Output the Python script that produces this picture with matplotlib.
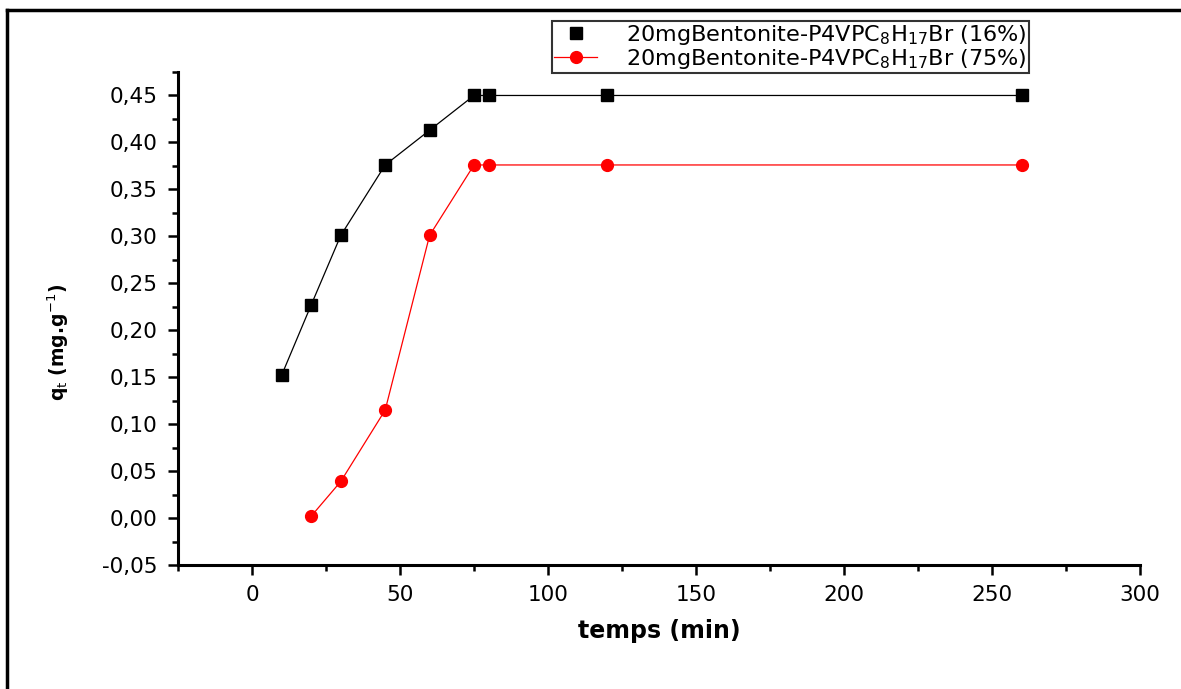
import numpy as np
import matplotlib
matplotlib.use('Agg')
import matplotlib.pyplot as plt
from matplotlib.lines import Line2D
from matplotlib.ticker import MultipleLocator, FuncFormatter

# temps (min) and q_t (mg/g)
t_16 = [10, 20, 30, 45, 60, 75, 80, 120, 260]
q_16 = [0.152, 0.227, 0.301, 0.376, 0.413, 0.450, 0.450, 0.450, 0.450]
t_75 = [20, 30, 45, 60, 75, 80, 120, 260]
q_75 = [0.002, 0.039, 0.115, 0.301, 0.376, 0.376, 0.376, 0.376]

label_16 = '20mgBentonite-P4VPC$_8$H$_{17}$Br (16%)'
label_75 = '20mgBentonite-P4VPC$_8$H$_{17}$Br (75%)'

plt.rcParams['font.family'] = ['DejaVu Sans']
plt.rcParams['mathtext.fontset'] = 'dejavusans'

W, H = 1181, 689
fig = plt.figure(figsize=(W / 100, H / 100), dpi=100, facecolor='w')

# outer frame (left and top only)
fig.add_artist(Line2D([7 / W, 7 / W], [0, 1 - 10 / H], color='black', lw=2.5,
                      transform=fig.transFigure))
fig.add_artist(Line2D([7 / W, 1], [1 - 10 / H, 1 - 10 / H], color='black', lw=2.5,
                      transform=fig.transFigure))

ax = fig.add_axes([178 / W, 1 - 565 / H, (1140 - 178) / W, (565 - 72) / H])

ax.plot(t_16, q_16, color='black', lw=0.9, zorder=2)
ax.plot(t_16, q_16, ls='none', marker='s', ms=8.5, color='black', zorder=3)
ax.plot(t_75, q_75, color='red', lw=0.9, marker='o', ms=8.5, zorder=3)

ax.set_xlim(-25, 300)
ax.set_ylim(-0.05, 0.475)
ax.xaxis.set_major_locator(MultipleLocator(50))
ax.xaxis.set_minor_locator(MultipleLocator(25))
ax.yaxis.set_major_locator(MultipleLocator(0.05))
ax.yaxis.set_minor_locator(MultipleLocator(0.025))
ax.yaxis.set_major_formatter(FuncFormatter(
    lambda v, p: ('%.2f' % v).replace('.', ',')))

for s in ['top', 'right']:
    ax.spines[s].set_visible(False)
for s in ['left', 'bottom']:
    ax.spines[s].set_linewidth(2.2)

ax.tick_params(which='major', direction='out', length=7.5, width=1.8, labelsize=15.5, pad=7)
ax.tick_params(which='minor', direction='out', length=4.5, width=1.8)

ax.set_xlabel('temps (min)', fontsize=17, fontweight='bold', labelpad=10)
ax.set_ylabel('q$_\\mathrm{t}$ (mg.g$^{-1}$)', fontsize=13.5, fontweight='bold', va='center')
ax.yaxis.set_label_coords(-0.124, 0.452)

handles = [Line2D([], [], ls='none', marker='s', ms=8.5, color='black'),
           Line2D([], [], color='red', lw=0.9, marker='o', ms=8.5)]
leg = fig.legend(handles, [label_16, label_75], loc='upper left',
                 bbox_to_anchor=(552 / W, 1 - 21 / H), fontsize=16.1,
                 frameon=True, fancybox=False, edgecolor='black',
                 handlelength=1.95, borderpad=0.08, labelspacing=0.0,
                 handletextpad=1.3, borderaxespad=0)
leg.get_frame().set_linewidth(1.5)

fig.savefig('out.png', dpi=100)
